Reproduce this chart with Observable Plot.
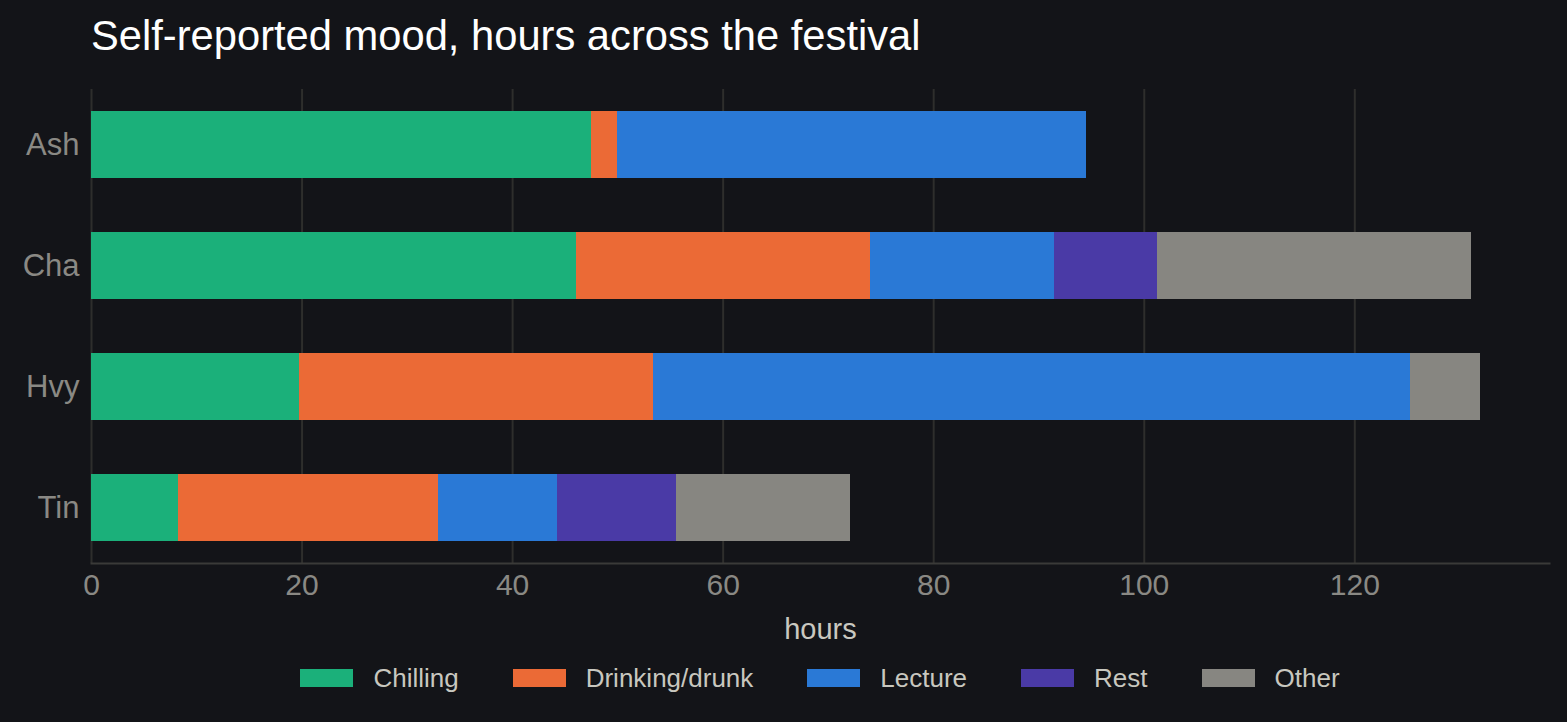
<!DOCTYPE html>
<html>
<head>
<meta charset="utf-8">
<script src="https://cdn.jsdelivr.net/npm/d3@7"></script>
<script src="https://cdn.jsdelivr.net/npm/@observablehq/plot@0.6"></script>
<style>
  html, body { margin: 0; padding: 0; background: #131418; }
  body { width: 1567px; height: 722px; overflow: hidden; font-family: "Liberation Sans", Arial, sans-serif; }
  #title { height: 70px; box-sizing: border-box; padding-top: 12px; padding-left: 91px; color: #ffffff; font-size: 41.7px; line-height: normal; white-space: nowrap; }
  #legend { display: flex; justify-content: center; align-items: center; padding-left: 91px; padding-right: 18px; padding-top: 5px; box-sizing: border-box; width: 1567px; }
  .item { display: flex; align-items: center; margin: 0 27px; }
  .sw { width: 53px; height: 18px; margin-right: 20px; }
  .lb { color: #c8c7bf; font-size: 26px; line-height: 1; }
  svg { display: block; }
</style>
</head>
<body>
<div id="title">Self-reported mood, hours across the festival</div>
<div id="chart"></div>
<div id="legend"></div>
<script>
const names = ["Ash", "Cha", "Hvy", "Tin"];
const categories = ["Chilling", "Drinking/drunk", "Lecture", "Rest", "Other"];
const colors = ["#1bb07a", "#eb6a36", "#2a79d6", "#4a3aa6", "#878681"];
const chilling = [47.5, 46.1, 19.8, 8.3];
const drinking = [2.5, 27.9, 33.6, 24.7];
const lecture = [44.5, 17.5, 71.9, 11.3];
const rest = [0, 9.8, 0, 11.3];
const other = [0, 29.8, 6.6, 16.5];
const xTicks = [0, 20, 40, 60, 80, 100, 120];

const series = [chilling, drinking, lecture, rest, other];
const rows = [];
names.forEach((n, i) => {
  categories.forEach((c, j) => {
    rows.push({name: n, category: c, hours: series[j][i]});
  });
});

const maxTotal = d3.max(names.map((n, i) => d3.sum(series, s => s[i])));

const plot = Plot.plot({
  width: 1567,
  height: 590,
  marginLeft: 91,
  marginRight: 18,
  marginTop: 19,
  marginBottom: 97,
  style: {background: "#131418", color: "#8a8984", fontFamily: "'Liberation Sans', Arial, sans-serif"},
  x: {domain: [0, maxTotal * 1.05]},
  y: {domain: names, paddingInner: 0.45, paddingOuter: 0.17},
  color: {domain: categories, range: colors},
  marks: [
    Plot.gridX(xTicks, {stroke: "#2e2e2c", strokeOpacity: 1, strokeWidth: 2}),
    Plot.barX(rows, Plot.stackX({y: "name", x: "hours", fill: "category", order: categories, shapeRendering: "crispEdges"})),
    Plot.frame({anchor: "bottom", stroke: "#3a3a38", strokeWidth: 2}),
    Plot.axisY({tickSize: 0, tickPadding: 12, fontSize: 31, color: "#8a8984", label: null}),
    Plot.axisX({ticks: xTicks, tickSize: 0, tickPadding: 10, fontSize: 30, color: "#8a8984", label: null}),
    Plot.axisX({ticks: [], tickSize: 0, label: "hours", labelAnchor: "center", labelArrow: "none", labelOffset: 75, fontSize: 29, color: "#c9c8c0"})
  ]
});
document.getElementById("chart").appendChild(plot);

const legend = document.getElementById("legend");
categories.forEach((c, j) => {
  const it = document.createElement("div");
  it.className = "item";
  const sw = document.createElement("div");
  sw.className = "sw";
  sw.style.background = colors[j];
  const lb = document.createElement("span");
  lb.className = "lb";
  lb.textContent = c;
  it.appendChild(sw);
  it.appendChild(lb);
  legend.appendChild(it);
});
</script>
</body>
</html>
